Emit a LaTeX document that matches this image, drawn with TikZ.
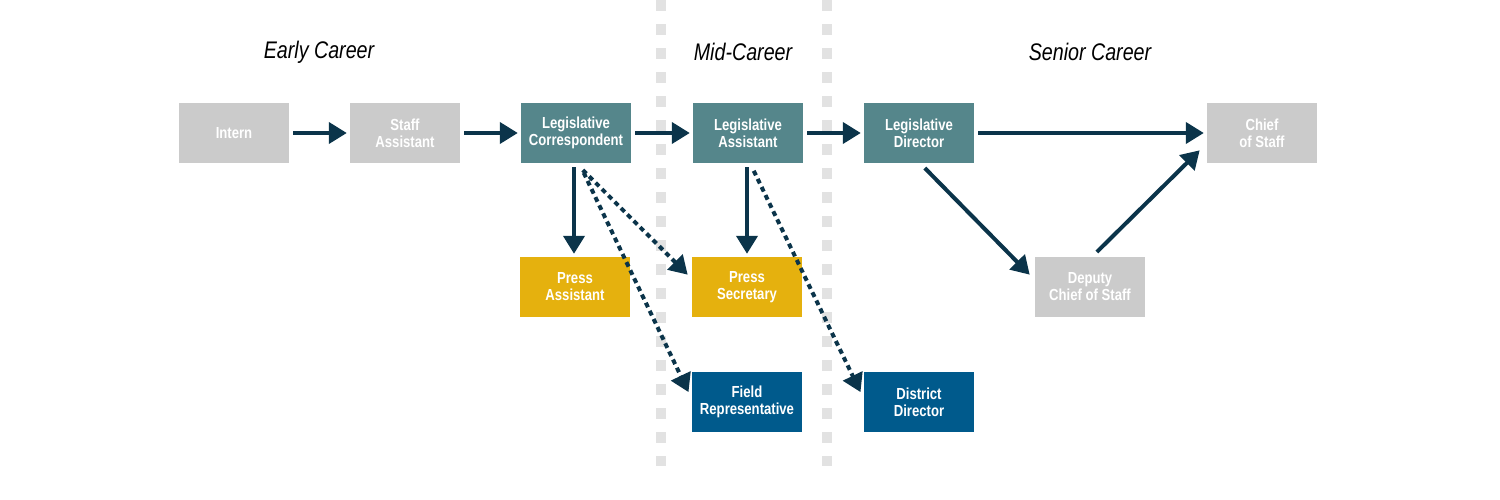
\documentclass[tikz,border=0pt]{standalone}
\usepackage{fontspec}
\setmainfont{Liberation Sans}[FakeStretch=0.82]
\usetikzlibrary{arrows.meta,calc}

\definecolor{stepgray}{HTML}{CBCBCB}
\definecolor{stepteal}{HTML}{55868B}
\definecolor{stepgold}{HTML}{E5B10E}
\definecolor{stepblue}{HTML}{005A8C}
\definecolor{arrowdark}{HTML}{0B344A}
\definecolor{dividergray}{HTML}{E2E2E2}

\begin{document}
\begin{tikzpicture}[x=1pt,y=-1pt,
    job/.style={minimum width=110pt,minimum height=60pt,inner sep=0pt,text=white,
        font=\bfseries\fontsize{16}{17}\selectfont,align=center},
    move/.style={line width=4pt,draw=arrowdark,-{Triangle[length=18pt,width=21pt]},
        shorten <=4pt,shorten >=3pt},
    maybe/.style={move,dash pattern=on 5pt off 4pt},
    stage/.style={font=\itshape\fontsize{24}{28}\selectfont}]
    \useasboundingbox (0,0) rectangle (1500,500);

    % dividers between the career stages
    \draw[dividergray,line width=10pt,dash pattern=on 11pt off 13pt] (661,0) -- (661,466);
    \draw[dividergray,line width=10pt,dash pattern=on 11pt off 13pt] (827,0) -- (827,466);

    \node[stage] (early) at (319,52) {Early Career};
    \node[stage] (mid) at (743,52) {Mid-Career};
    \node[stage] (senior) at (1090,52) {Senior Career};

    \node[job,fill=stepgray] (intern) at (234,133) {Intern};
    \node[job,fill=stepgray] (staff) at (405,133) {Staff\\Assistant};
    \node[job,fill=stepteal] (corr) at (576,133) {Legislative\\Correspondent};
    \node[job,fill=stepteal] (legasst) at (748,133) {Legislative\\Assistant};
    \node[job,fill=stepteal] (legdir) at (919,133) {Legislative\\Director};
    \node[job,fill=stepgray] (chief) at (1262,133) {Chief\\of Staff};

    \node[job,fill=stepgold] (pressasst) at (575,287) {Press\\Assistant};
    \node[job,fill=stepgold] (presssec) at (747,287) {Press\\Secretary};
    \node[job,fill=stepgray] (deputy) at (1090,287) {Deputy\\Chief of Staff};

    \node[job,fill=stepblue] (field) at (747,402) {Field\\Representative};
    \node[job,fill=stepblue] (district) at (919,402) {District\\Director};

    \draw[move] (intern) -- (staff);
    \draw[move] (staff) -- (corr);
    \draw[move] (corr) -- (legasst);
    \draw[move] (legasst) -- (legdir);
    \draw[move] (legdir) -- (chief);

    \draw[move] ($(corr.south)+(-2,0)$) -- ($(pressasst.north)+(-1,0)$);
    \draw[move] ($(legasst.south)+(-1,0)$) -- (presssec.north);

    \draw[maybe] ($(corr.south)+(4,4)$) -- ($(presssec.north west)+(-2,20)$);
    \draw[maybe] ($(corr.south)+(6,6)$) -- ($(field.north west)+(-2,23)$);
    \draw[maybe] ($(legasst.south)+(4,4)$) -- ($(district.north west)+(-2,23)$);

    \draw[move] ($(legdir.south)+(3,2)$) -- ($(deputy.north west)+(-3,20)$);
    \draw[move] ($(deputy.north)+(4,-2)$) -- ($(chief.south west)+(-5,-15)$);

\end{tikzpicture}
\end{document}
